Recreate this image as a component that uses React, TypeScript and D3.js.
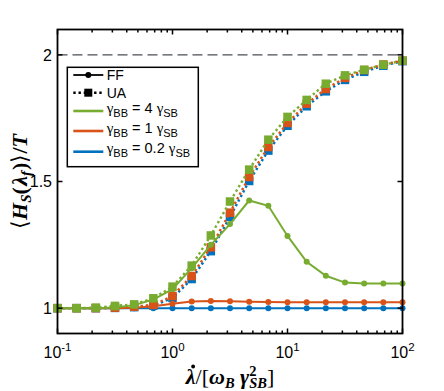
import React, { useEffect, useRef } from 'react';
import * as d3 from 'd3';

// sweep rate lambda-dot / [omega_B gamma_SB^2], six points per decade
const lambdaRates = [0.1, 0.1468, 0.2154, 0.3162, 0.4642, 0.6813, 1, 1.468, 2.154, 3.162, 4.642, 6.813, 10, 14.68, 21.54, 31.62, 46.42, 68.13, 100];

// <H_S(lambda_f)>/T, FF = full (solid + circles), UA = approximation (dotted + squares)
const ffStrong = [1.0, 1.0, 1.0, 1.003, 1.012, 1.034, 1.075, 1.158, 1.25, 1.332, 1.425, 1.404, 1.285, 1.183, 1.128, 1.101, 1.097, 1.097, 1.097];
const uaStrong = [1.0, 1.0, 1.002, 1.009, 1.015, 1.039, 1.085, 1.168, 1.287, 1.421, 1.547, 1.665, 1.755, 1.822, 1.886, 1.919, 1.941, 1.961, 1.977];
const ffMid = [1.0, 1.0, 1.0, 1.0, 1.002, 1.008, 1.017, 1.026, 1.028, 1.027, 1.025, 1.024, 1.023, 1.023, 1.023, 1.023, 1.023, 1.023, 1.023];
const uaMid = [1.0, 1.0, 1.0, 1.002, 1.006, 1.013, 1.048, 1.127, 1.24, 1.377, 1.518, 1.636, 1.731, 1.807, 1.865, 1.909, 1.94, 1.962, 1.977];
const ffWeak = [1.0, 1.0, 1.0, 1.0, 1.0, 1.0, 1.0, 1.0, 1.0, 1.0, 1.0, 1.0, 1.0, 1.0, 1.0, 1.0, 1.0, 1.0, 1.0];
const uaWeak = [1.0, 1.0, 1.0, 1.001, 1.004, 1.01, 1.04, 1.115, 1.225, 1.36, 1.502, 1.622, 1.72, 1.797, 1.856, 1.901, 1.933, 1.957, 1.975];

const xTickValues = [0.1, 1, 10, 100];
const xTickExponents = ['-1', '0', '1', '2'];
const yTickValues = [1, 1.5, 2];
const yTickLabels = ['1', '1.5', '2'];
const thermalLimit = 2;

const blue = '#0072BD';
const orange = '#D95319';
const green = '#77AC30';

const sans = '"Liberation Sans", Arial, sans-serif';
const serif = '"Liberation Serif", "Times New Roman", serif';

export default function App() {
  const ref = useRef<SVGSVGElement>(null);

  useEffect(() => {
    const svg = d3.select(ref.current);
    svg.selectAll('*').remove();

    const left = 57.5, right = 402.5, top = 29.5, bottom = 333.5;
    const x = d3.scaleLog().domain([0.1, 100]).range([left, right]);
    const y = d3.scaleLinear().domain([0.9, 2.1]).range([bottom, top]);

    // drawn blue first, green on top; legend lists green first
    const series = [
      { ff: ffWeak, ua: uaWeak, color: blue, ratio: '0.2', row: 151.7 },
      { ff: ffMid, ua: uaMid, color: orange, ratio: '1', row: 131 },
      { ff: ffStrong, ua: uaStrong, color: green, ratio: '4', row: 111 },
    ];

    svg.append('line')
      .attr('x1', x(0.1)).attr('x2', x(100))
      .attr('y1', y(thermalLimit)).attr('y2', y(thermalLimit))
      .attr('stroke', '#4a4f55').attr('stroke-width', 1.3)
      .attr('stroke-dasharray', '10 5');

    const line = d3.line<number>()
      .x((d, i) => x(lambdaRates[i]))
      .y(d => y(d));

    series.forEach(s => {
      const g = svg.append('g');
      g.append('path').datum(s.ff)
        .attr('d', line).attr('fill', 'none')
        .attr('stroke', s.color).attr('stroke-width', 2);
      g.selectAll('circle').data(s.ff).join('circle')
        .attr('cx', (d, i) => x(lambdaRates[i]))
        .attr('cy', d => y(d))
        .attr('r', 3)
        .attr('fill', s.color);

      g.append('path').datum(s.ua)
        .attr('d', line).attr('fill', 'none')
        .attr('stroke', s.color).attr('stroke-width', 2.4)
        .attr('stroke-dasharray', '2.4 2.8');
      g.selectAll('rect').data(s.ua).join('rect')
        .attr('x', (d, i) => x(lambdaRates[i]) - 4.25)
        .attr('y', d => y(d) - 4.25)
        .attr('width', 8.5).attr('height', 8.5)
        .attr('fill', s.color);
    });

    // box with inward ticks on all sides
    const axes = svg.append('g');
    const minor = x.ticks().filter(t => !xTickValues.some(v => Math.abs(v - t) < 1e-9));
    axes.selectAll('.xmaj').data(xTickValues).join('g').attr('class', 'xmaj')
      .each(function (d) {
        const sel = d3.select(this);
        sel.append('line').attr('x1', x(d)).attr('x2', x(d)).attr('y1', bottom).attr('y2', bottom - 5);
        sel.append('line').attr('x1', x(d)).attr('x2', x(d)).attr('y1', top).attr('y2', top + 5);
      });
    axes.selectAll('.xmin').data(minor).join('g').attr('class', 'xmin')
      .each(function (d) {
        const sel = d3.select(this);
        sel.append('line').attr('x1', x(d)).attr('x2', x(d)).attr('y1', bottom).attr('y2', bottom - 3);
        sel.append('line').attr('x1', x(d)).attr('x2', x(d)).attr('y1', top).attr('y2', top + 3);
      });
    axes.selectAll('.ymaj').data(yTickValues).join('g').attr('class', 'ymaj')
      .each(function (d) {
        const sel = d3.select(this);
        sel.append('line').attr('x1', left).attr('x2', left + 5).attr('y1', y(d)).attr('y2', y(d));
        sel.append('line').attr('x1', right).attr('x2', right - 5).attr('y1', y(d)).attr('y2', y(d));
      });
    axes.selectAll('line').attr('stroke', '#000').attr('stroke-width', 1.5);
    axes.append('rect')
      .attr('x', left).attr('y', top)
      .attr('width', right - left).attr('height', bottom - top)
      .attr('fill', 'none').attr('stroke', '#000').attr('stroke-width', 1.8);

    yTickValues.forEach((v, i) => {
      svg.append('text')
        .attr('x', left - 5.5).attr('y', y(v) + 5.8)
        .attr('text-anchor', 'end')
        .style('font-family', sans).style('font-size', '16px')
        .text(yTickLabels[i]);
    });
    xTickValues.forEach((v, i) => {
      const t = svg.append('text')
        .attr('x', x(v)).attr('y', 357.5)
        .attr('text-anchor', 'middle')
        .style('font-family', sans).style('font-size', '16px');
      t.append('tspan').text('10');
      t.append('tspan').attr('dy', -6.5).style('font-size', '11.5px').text(xTickExponents[i]);
    });

    // x label: lambda-dot / [omega_B gamma^2_SB]
    const xBase = 384;
    const xl = svg.append('text')
      .attr('x', (left + right) / 2).attr('y', xBase)
      .attr('text-anchor', 'middle')
      .style('font-family', serif).style('font-size', '22px')
      .style('font-weight', 'bold').style('font-style', 'italic');
    xl.append('tspan').text('\u03BB');
    xl.append('tspan').style('font-style', 'normal').style('font-weight', 'normal').text('/[');
    xl.append('tspan').text('\u03C9');
    xl.append('tspan').attr('dy', 4).style('font-size', '14.5px').text('B');
    xl.append('tspan').attr('dy', -4).text(' \u03B3');
    xl.append('tspan').attr('dy', -8).style('font-size', '14.5px').style('font-style', 'normal').text('2');
    xl.append('tspan').attr('dx', -7.3).attr('dy', 12).style('font-size', '14.5px').text('SB');
    xl.append('tspan').attr('dy', -4).style('font-style', 'normal').style('font-weight', 'normal').text(']');
    const lam = (xl.node() as SVGTextElement).getExtentOfChar(0);
    svg.append('circle')
      .attr('cx', lam.x + lam.width / 2 + 2.5)
      .attr('cy', xBase - 17.5)
      .attr('r', 1.9)
      .attr('fill', '#000');

    const yl = svg.append('text')
      .attr('transform', `translate(27,${(top + bottom) / 2}) rotate(-90)`)
      .attr('text-anchor', 'middle')
      .style('font-family', serif).style('font-size', '22px')
      .style('font-weight', 'bold').style('font-style', 'italic');
    yl.append('tspan').style('font-style', 'normal').style('font-weight', 'normal').text('\u27E8');
    yl.append('tspan').text('H');
    yl.append('tspan').attr('dy', 4).style('font-size', '15px').text('S');
    yl.append('tspan').attr('dy', -4).style('font-style', 'normal').text('(');
    yl.append('tspan').attr('dx', 1.5).text('\u03BB');
    yl.append('tspan').attr('dy', 4).style('font-size', '15px').text('f');
    yl.append('tspan').attr('dy', -4).attr('dx', 1).style('font-style', 'normal').text(')');
    yl.append('tspan').style('font-style', 'normal').style('font-weight', 'normal').text('\u27E9');
    yl.append('tspan').style('font-style', 'normal').text('/');
    yl.append('tspan').text('T');

    // legend
    const lg = svg.append('g');
    lg.append('rect')
      .attr('x', 67.3).attr('y', 67.3).attr('width', 131).attr('height', 99.4)
      .attr('fill', '#fff').attr('stroke', '#000').attr('stroke-width', 1.5);
    const lx1 = 73.3, lx2 = 103.3, lmid = 88.3, tx = 106.7;

    lg.append('line').attr('x1', lx1).attr('x2', lx2).attr('y1', 75).attr('y2', 75)
      .attr('stroke', '#000').attr('stroke-width', 1.8);
    lg.append('circle').attr('cx', lmid).attr('cy', 75).attr('r', 3).attr('fill', '#000');
    lg.append('text').attr('x', tx).attr('y', 80)
      .style('font-family', sans).style('font-size', '14px').text('FF');

    lg.append('line').attr('x1', lx1).attr('x2', lx2).attr('y1', 92.7).attr('y2', 92.7)
      .attr('stroke', '#000').attr('stroke-width', 2.4).attr('stroke-dasharray', '2.4 2.8');
    lg.append('rect').attr('x', lmid - 4).attr('y', 92.7 - 4).attr('width', 8).attr('height', 8).attr('fill', '#000');
    lg.append('text').attr('x', tx).attr('y', 97.5)
      .style('font-family', sans).style('font-size', '14px').text('UA');

    series.forEach(s => {
      lg.append('line').attr('x1', lx1).attr('x2', lx2).attr('y1', s.row).attr('y2', s.row)
        .attr('stroke', s.color).attr('stroke-width', 2.6);
      const t = lg.append('text').attr('x', tx).attr('y', s.row + 1.5)
        .style('font-family', sans).style('font-size', '14.5px');
      t.append('tspan').style('font-family', serif).style('font-size', '15px').text('\u03B3');
      t.append('tspan').attr('dy', 4).style('font-size', '11px').text('BB');
      t.append('tspan').attr('dy', -4).text(` = ${s.ratio} `);
      t.append('tspan').style('font-family', serif).style('font-size', '15px').text('\u03B3');
      t.append('tspan').attr('dy', 4).style('font-size', '11px').text('SB');
    });
  }, []);

  return (
    <svg ref={ref} width={444} height={391}
      style={{ position: 'absolute', left: 0, top: 0, background: '#fff' }} />
  );
}
